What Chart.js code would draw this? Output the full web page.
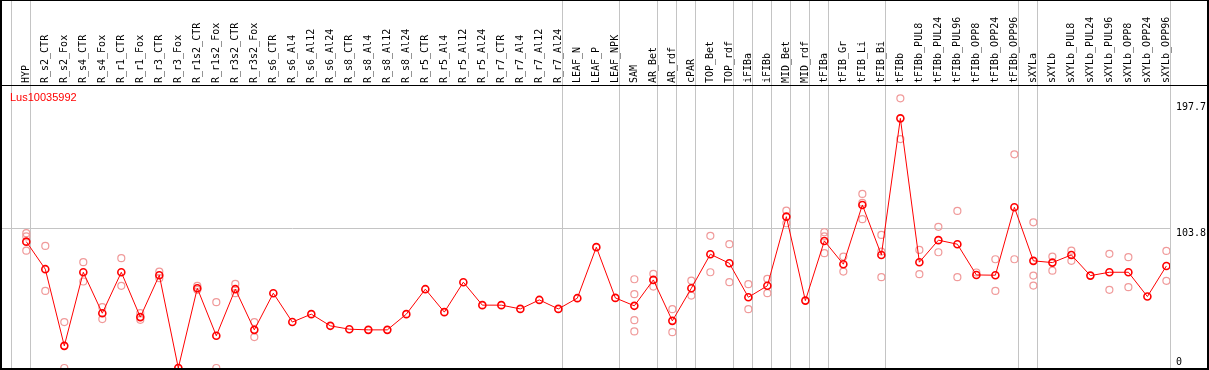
<!DOCTYPE html>
<html>
<head>
<meta charset="utf-8">
<script src="https://cdn.jsdelivr.net/npm/chart.js@4.4.1/dist/chart.umd.min.js"></script>
<style>
  html, body { margin: 0; padding: 0; background: #fff; }
</style>
</head>
<body>
<canvas id="chart" width="1209" height="370"></canvas>
<script>
const geneName = 'Lus10035992';

const categories = [
  'HYP', 'R_s2_CTR', 'R_s2_Fox', 'R_s4_CTR', 'R_s4_Fox', 'R_r1_CTR', 'R_r1_Fox', 'R_r3_CTR', 'R_r3_Fox',
  'R_r1s2_CTR', 'R_r1s2_Fox', 'R_r3s2_CTR', 'R_r3s2_Fox', 'R_s6_CTR', 'R_s6_Al4', 'R_s6_Al12', 'R_s6_Al24',
  'R_s8_CTR', 'R_s8_Al4', 'R_s8_Al12', 'R_s8_Al24', 'R_r5_CTR', 'R_r5_Al4', 'R_r5_Al12', 'R_r5_Al24',
  'R_r7_CTR', 'R_r7_Al4', 'R_r7_Al12', 'R_r7_Al24', 'LEAF_N', 'LEAF_P', 'LEAF_NPK', 'SAM', 'AR_Bet', 'AR_rdf',
  'cPAR', 'TOP_Bet', 'TOP_rdf', 'iFIBa', 'iFIBb', 'MID_Bet', 'MID_rdf', 'tFIBa', 'tFIB_Gr', 'tFIB_Li', 'tFIB_Bi',
  'tFIBb', 'tFIBb_PUL8', 'tFIBb_PUL24', 'tFIBb_PUL96', 'tFIBb_OPP8', 'tFIBb_OPP24', 'tFIBb_OPP96',
  'sXYLa', 'sXYLb', 'sXYLb_PUL8', 'sXYLb_PUL24', 'sXYLb_PUL96', 'sXYLb_OPP8', 'sXYLb_OPP24', 'sXYLb_OPP96'
];

// mean expression per sample
const means = [
  94.1, 73.6, 16.5, 71.3, 40.8, 71.3, 37.9, 69.1, 0,
  59.4, 24.0, 58.7, 28.4, 55.7, 34.2, 40.1, 31.4,
  28.9, 28.4, 28.4, 40.1, 58.7, 41.6, 63.9, 46.8,
  46.8, 44.0, 50.7, 44.0, 52.0, 90.0, 52.2, 46.3, 65.6, 35.1,
  59.4, 84.7, 78.0, 52.7, 61.2, 112.7, 50.2, 94.6, 77.3, 121.4, 84.2,
  185.9, 78.8, 95.2, 92.2, 69.3, 69.1, 119.7,
  79.8, 78.5, 84.2, 68.8, 71.3, 71.3, 53.2, 76.0
];

// individual replicates (null = none visible)
const rep1 = [
  100.4, 90.9, 34.2, 78.8, 45.3, 81.8, 40.8, 71.8, 0,
  61.2, 49.0, 62.6, 34.2, null, null, null, null,
  null, null, null, null, null, null, null, null,
  null, null, null, null, null, null, null, 66.1, 70.1, 43.8,
  65.1, 98.4, 92.2, 62.4, 66.4, 117.2, null, 101.1, 83.0, 129.6, 99.1,
  200.8, 87.9, 105.1, 117.0, 71.1, 81.0, 159.1,
  108.5, 83.0, 87.4, null, 85.0, 82.5, null, 87.2
];
const rep2 = [
  98.0, 57.4, 0, 64.4, 36.4, 61.2, 35.9, 66.9, null,
  58.2, 0, 55.7, 23.0, null, null, null, null,
  null, null, null, null, null, null, null, null,
  null, null, null, null, null, null, null, 55.0, 60.6, 26.7,
  53.9, 71.3, 63.9, 43.8, 55.7, 107.8, null, 98.0, 71.8, 123.0, 86.7,
  170.5, 69.9, 86.2, 67.6, null, 57.4, 81.0,
  68.8, 72.5, 79.8, null, 58.2, 60.2, null, 64.9
];
const rep3 = [
  87.4, null, null, null, null, null, null, null, null,
  null, null, null, null, null, null, null, null,
  null, null, null, null, null, null, null, null,
  null, null, null, null, null, null, null, 35.6, null, null,
  null, null, null, null, null, null, null, 85.5, null, 110.8, 67.6,
  null, null, null, null, null, null, null,
  61.4, null, null, null, null, null, null, null
];
const rep4 = [
  null, null, null, null, null, null, null, null, null,
  null, null, null, null, null, null, null, null,
  null, null, null, null, null, null, null, null,
  null, null, null, null, null, null, null, 27.2, null, null,
  null, null, null, null, null, null, null, null, null, null, null,
  null, null, null, null, null, null, null,
  null, null, null, null, null, null, null, null
];

const yTicks = [0, 103.8, 197.7];
// group separators drawn just after these sample indexes
const separators = [-1, 0, 28, 31, 33, 34, 35, 37, 38, 39, 40, 41, 42, 45, 52, 53, 60];

function toPoints(arr) {
  const pts = [];
  arr.forEach((v, i) => { if (v !== null) pts.push({ x: i, y: v }); });
  return pts;
}

const repStyle = {
  showLine: false,
  pointRadius: 3.5,
  pointBorderWidth: 1.2,
  pointBorderColor: '#f09a9a',
  pointBackgroundColor: 'rgba(0,0,0,0)',
  pointHoverRadius: 3.5
};

const framePlugin = {
  id: 'frame',
  beforeDatasetsDraw(chart) {
    const ctx = chart.ctx;
    const x = chart.scales.x;
    const area = chart.chartArea;
    ctx.save();
    ctx.strokeStyle = '#c4c4c4';
    ctx.lineWidth = 1;
    separators.forEach(i => {
      const px = Math.round(x.getPixelForValue(i + 0.2)) + 0.5;
      ctx.beginPath();
      ctx.moveTo(px, 0);
      ctx.lineTo(px, area.bottom);
      ctx.stroke();
    });
    ctx.restore();
  },
  afterDraw(chart) {
    const ctx = chart.ctx;
    const y = chart.scales.y;
    const area = chart.chartArea;
    ctx.save();
    // frame lines
    ctx.fillStyle = '#000';
    ctx.fillRect(0, 0, 1209, 1);
    ctx.fillRect(0, area.top - 1, 1209, 1);
    ctx.fillRect(0, 0, 2, 370);
    ctx.fillRect(0, 368, 1209, 2);
    ctx.fillRect(1207, 0, 2, 370);
    // right axis labels
    ctx.font = '10px "DejaVu Sans Mono"';
    ctx.textAlign = 'left';
    ctx.textBaseline = 'top';
    yTicks.forEach(v => {
      let py = y.getPixelForValue(v);
      py = Math.min(py, area.bottom - 11);
      ctx.fillText(String(v), area.right + 6, py);
    });
    // gene name
    ctx.fillStyle = '#ff0000';
    ctx.font = '11px "Liberation Sans"';
    ctx.textBaseline = 'middle';
    ctx.fillText(geneName, 10, 98);
    ctx.restore();
  }
};

new Chart(document.getElementById('chart'), {
  type: 'line',
  data: {
    datasets: [
      {
        label: geneName,
        data: toPoints(means),
        borderColor: '#ff0000',
        borderWidth: 1,
        tension: 0,
        pointRadius: 3.5,
        pointBorderWidth: 1.6,
        pointBorderColor: '#ff0000',
        pointBackgroundColor: 'rgba(0,0,0,0)',
        pointHoverRadius: 3.5
      },
      Object.assign({ label: 'rep1', data: toPoints(rep1) }, repStyle),
      Object.assign({ label: 'rep2', data: toPoints(rep2) }, repStyle),
      Object.assign({ label: 'rep3', data: toPoints(rep3) }, repStyle),
      Object.assign({ label: 'rep4', data: toPoints(rep4) }, repStyle)
    ]
  },
  options: {
    responsive: false,
    animation: false,
    devicePixelRatio: 1,
    layout: { autoPadding: false, padding: { left: 0, right: 0, top: 0, bottom: 2 } },
    plugins: {
      legend: { display: false },
      tooltip: { enabled: false },
      title: { display: false }
    },
    scales: {
      x: {
        type: 'linear',
        position: 'top',
        min: -1.384,
        max: 60.19,
        afterBuildTicks: s => { s.ticks = categories.map((c, i) => ({ value: i })); },
        afterFit: s => {
          s.height = 86;
          s.paddingLeft = 0;
          s.paddingRight = 0;
        },
        grid: { display: false, drawTicks: false },
        border: { display: false },
        ticks: {
          autoSkip: false,
          minRotation: 90,
          maxRotation: 90,
          padding: 3,
          labelOffset: 12,
          color: '#000',
          font: { family: 'DejaVu Sans Mono', size: 10 },
          callback: v => categories[v]
        }
      },
      y: {
        type: 'linear',
        position: 'right',
        min: 0,
        max: 210,
        afterBuildTicks: s => { s.ticks = yTicks.map(v => ({ value: v })); },
        afterFit: s => { s.width = 39; },
        border: { display: false },
        grid: {
          drawTicks: false,
          color: c => (c.tick && c.tick.value === 103.8) ? '#c4c4c4' : 'rgba(0,0,0,0)'
        },
        ticks: { display: false }
      }
    }
  },
  plugins: [framePlugin]
});
</script>
</body>
</html>
